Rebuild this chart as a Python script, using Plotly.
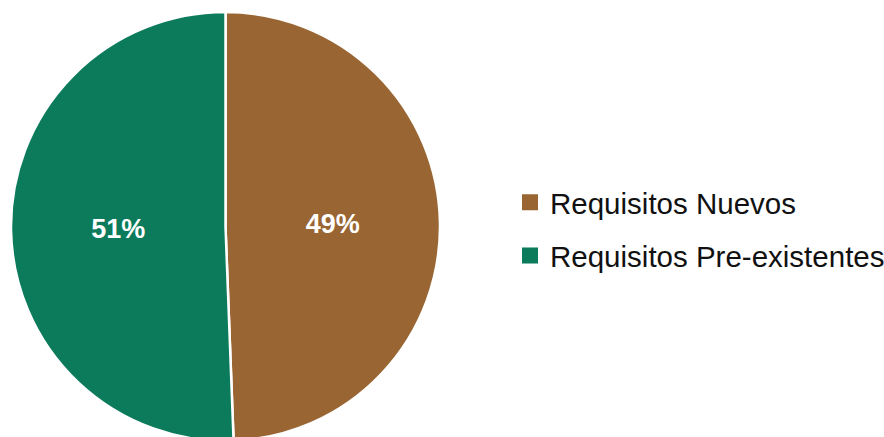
import plotly.graph_objects as go

labels = ["Requisitos Nuevos", "Requisitos Pre-existentes"]
values = [49.4, 50.6]
colors = ["#996633", "#0B7B5B"]

fig = go.Figure()
fig.add_trace(go.Pie(
    labels=labels,
    values=values,
    sort=False,
    direction="clockwise",
    rotation=0,
    marker=dict(colors=colors, line=dict(color="white", width=2.5)),
    texttemplate="%{percent:.0%}",
    textposition="inside",
    insidetextorientation="horizontal",
    textfont=dict(family="Liberation Sans, Arial", size=27, color="white", weight="bold"),
    domain=dict(x=[3/884, 432/884], y=[1 - 433/437, 1 - 4/437]),
    hoverinfo="label+percent",
    showlegend=False,
))

for lab, col in zip(labels, colors):
    fig.add_trace(go.Scatter(
        x=[None], y=[None], mode="markers", name=lab, legendgroup=lab,
        marker=dict(symbol="square", size=16, color=col),
        showlegend=True, hoverinfo="skip",
    ))

fig.update_layout(
    width=884, height=437,
    margin=dict(l=0, r=0, t=0, b=0),
    paper_bgcolor="white",
    plot_bgcolor="white",
    xaxis=dict(visible=False),
    yaxis=dict(visible=False),
    showlegend=True,
    legend=dict(
        x=502/884, xanchor="left",
        y=1 - 221/437, yanchor="middle",
        font=dict(family="Liberation Sans, Arial", size=29.5, color="#111111"),
        bgcolor="rgba(0,0,0,0)",
        tracegroupgap=12,
        traceorder="grouped",
    ),
)

fig.write_html("out.html", post_script="document.body.style.margin='8px 0 0 8px';")
